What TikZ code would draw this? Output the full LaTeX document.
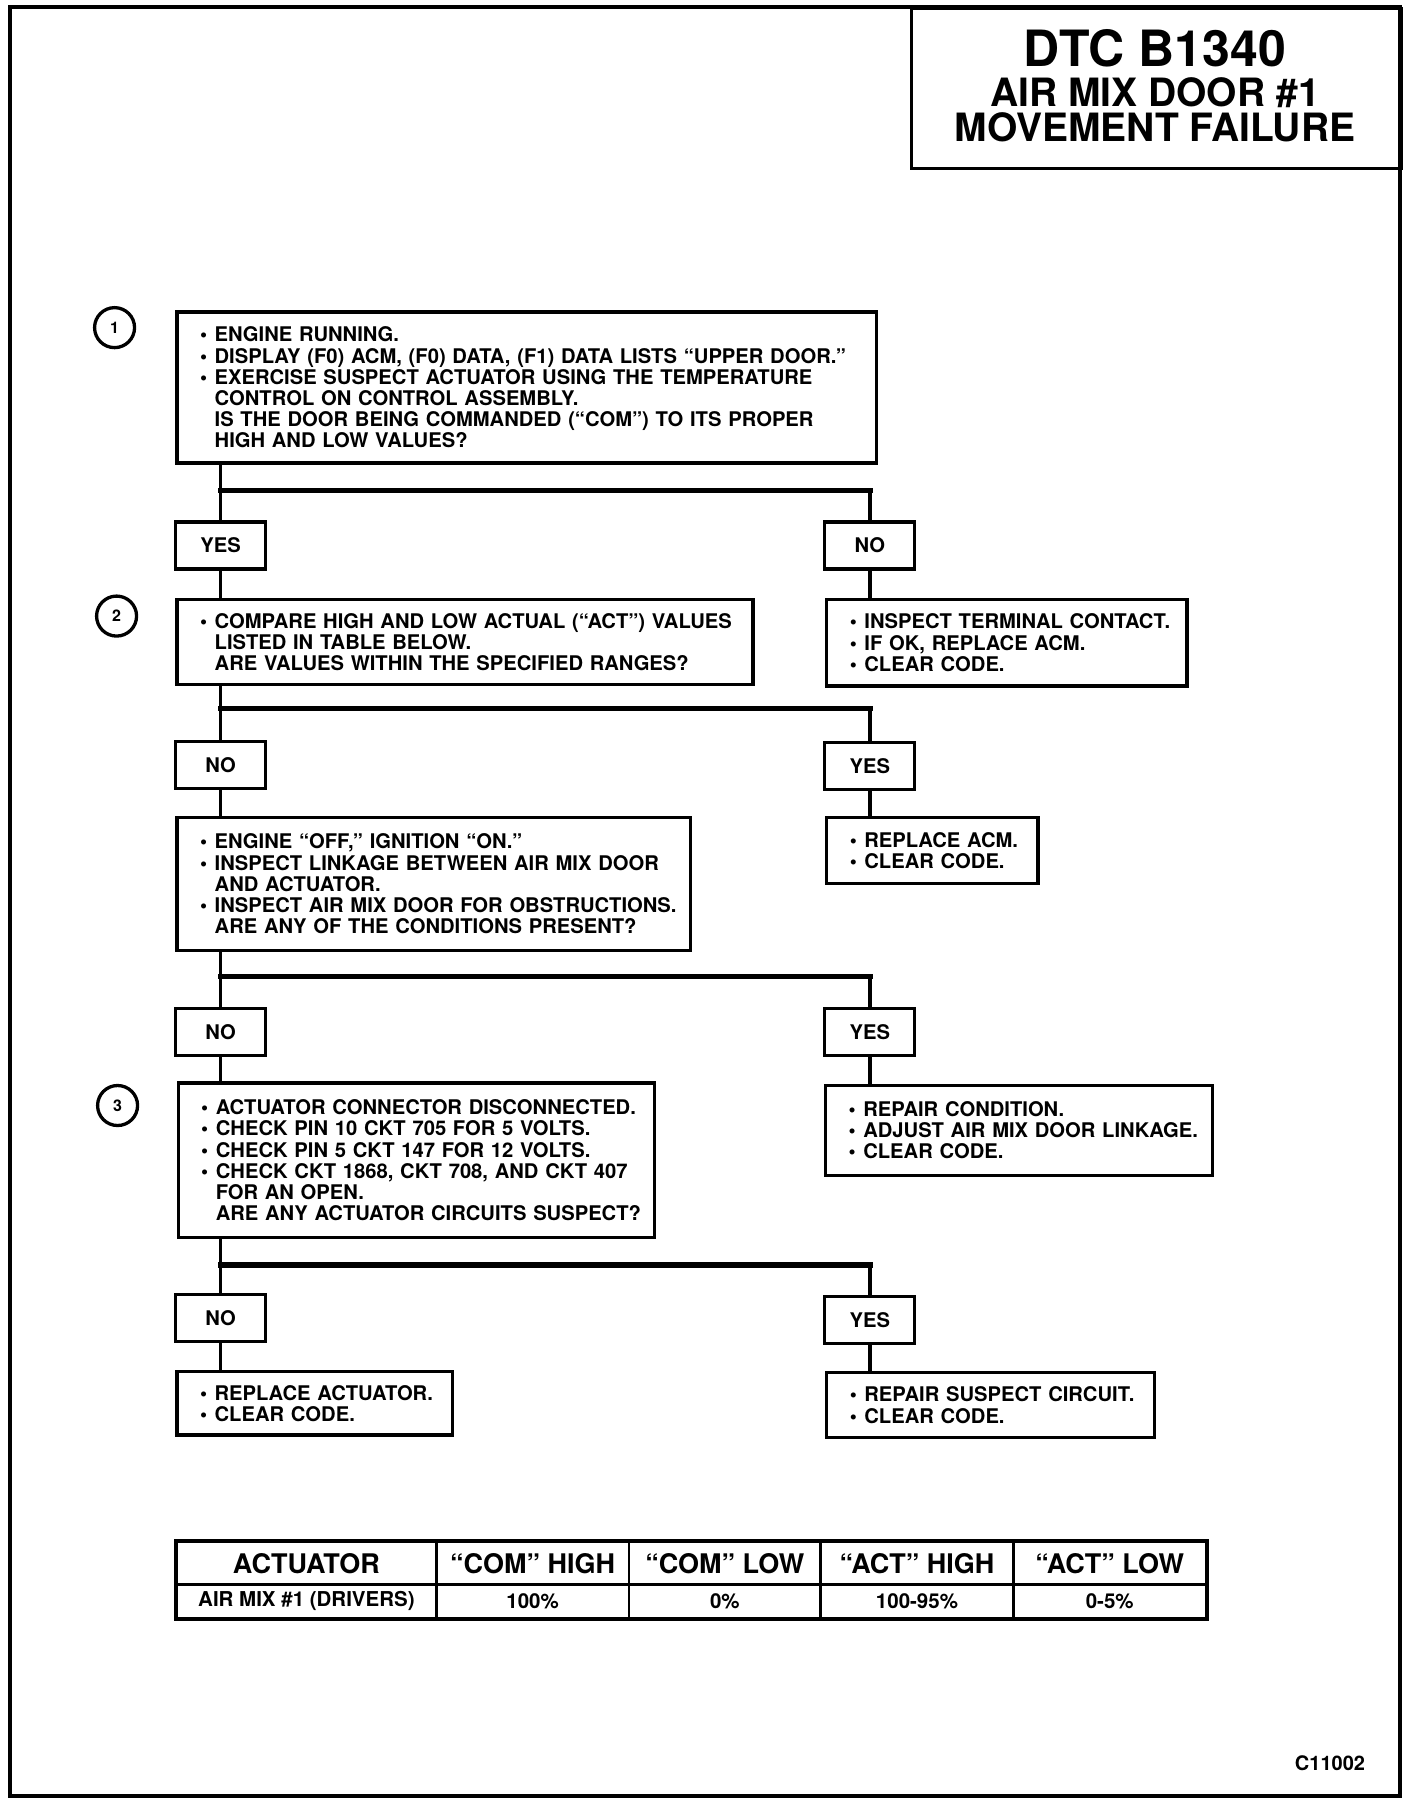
\documentclass[tikz,border=0pt]{standalone}
\usepackage{fontspec}
\setmainfont{TeX Gyre Heros}
\usetikzlibrary{calc}
\newcommand\bitem[1]{\mbox{\makebox[14.6pt][l]{\textbullet}#1}}
\newcommand\citem[1]{\mbox{\hspace*{14.6pt}#1}}
\newcommand\boxfont{\fontsize{20.2}{21.2}\selectfont\bfseries}
\begin{document}
\begin{tikzpicture}[x=1pt,y=-1pt,
  stepbox/.style={draw, line width=3.2pt, anchor=north west, inner xsep=23pt, inner ysep=0pt, align=left, font=\boxfont},
  lbl/.style={draw, line width=3.2pt, minimum width=90pt, minimum height=47pt, inner sep=0pt, font=\boxfont},
  numc/.style={circle, draw, line width=3.3pt, minimum size=40pt, inner sep=0pt, font=\fontsize{16}{16}\selectfont\bfseries},
  vline/.style={line width=3.6pt},
  hline/.style={line width=5.6pt, line cap=rect},
  cell/.style={draw, line width=2.6pt, inner sep=0pt},
  hcell/.style={cell, minimum height=42.7pt, font=\fontsize{27}{27}\selectfont\bfseries},
  dcell/.style={cell, minimum height=33.4pt, font=\fontsize{20.5}{20.5}\selectfont\bfseries}
]
\useasboundingbox (0,0) rectangle (1424,1810);
% frame
\draw[line width=3.6pt] (10,7) rectangle (1400,1796);
% title
\node[draw, line width=3pt, anchor=north west, minimum width=490pt, minimum height=160pt, inner sep=0pt] (title) at (910,7) {};
\node[anchor=base, font=\fontsize{50}{50}\selectfont\bfseries] (t1) at (1155,66) {DTC B1340};
\node[anchor=base, font=\fontsize{39}{39}\selectfont\bfseries] (t2) at (1155,106) {AIR MIX DOOR \#1};
\node[anchor=base, font=\fontsize{39}{39}\selectfont\bfseries] (t3) at (1155,141.5) {MOVEMENT FAILURE};
\begin{scope}[x=1.005pt,y=-1.005pt]
% step numbers
\node[numc] (c1) at (114,326) {1};
\node[numc] (c2) at (116,613) {2};
\node[numc] (c3) at (117,1100) {3};
% boxes
\node[stepbox, text width=653.4pt, minimum height=151pt] (b1) at (174.6,308.9) {%
\bitem{ENGINE RUNNING.}\\
\bitem{DISPLAY (F0) ACM, (F0) DATA, (F1) DATA LISTS “UPPER DOOR.”}\\
\bitem{EXERCISE SUSPECT ACTUATOR USING THE TEMPERATURE}\\
\citem{CONTROL ON CONTROL ASSEMBLY.}\\
\citem{IS THE DOOR BEING COMMANDED (“COM”) TO ITS PROPER}\\
\citem{HIGH AND LOW VALUES?}};
\node[stepbox, text width=529.9pt, minimum height=85.3pt] (b2) at (174.6,594.9) {%
\bitem{COMPARE HIGH AND LOW ACTUAL (“ACT”) VALUES}\\
\citem{LISTED IN TABLE BELOW.}\\
\citem{ARE VALUES WITHIN THE SPECIFIED RANGES?}};
\node[stepbox, text width=314.1pt, minimum height=86.5pt] (r2) at (821.1,594.9) {%
\bitem{INSPECT TERMINAL CONTACT.}\\
\bitem{IF OK, REPLACE ACM.}\\
\bitem{CLEAR CODE.}};
\node[stepbox, text width=467.6pt, minimum height=132.8pt] (b3) at (174.6,811.9) {%
\bitem{ENGINE “OFF,” IGNITION “ON.”}\\
\bitem{INSPECT LINKAGE BETWEEN AIR MIX DOOR}\\
\citem{AND ACTUATOR.}\\
\bitem{INSPECT AIR MIX DOOR FOR OBSTRUCTIONS.}\\
\citem{ARE ANY OF THE CONDITIONS PRESENT?}};
\node[stepbox, text width=165.2pt, minimum height=65.8pt] (r3) at (821.1,811.9) {%
\bitem{REPLACE ACM.}\\
\bitem{CLEAR CODE.}};
\node[stepbox, text width=430.7pt, minimum height=154.7pt] (b4) at (175.7,1076) {%
\bitem{ACTUATOR CONNECTOR DISCONNECTED.}\\
\bitem{CHECK PIN 10 CKT 705 FOR 5 VOLTS.}\\
\bitem{CHECK PIN 5 CKT 147 FOR 12 VOLTS.}\\
\bitem{CHECK CKT 1868, CKT 708, AND CKT 407}\\
\citem{FOR AN OPEN.}\\
\citem{ARE ANY ACTUATOR CIRCUITS SUSPECT?}};
\node[stepbox, text width=340.6pt, minimum height=90pt] (r4) at (820,1078.3) {%
\bitem{REPAIR CONDITION.}\\
\bitem{ADJUST AIR MIX DOOR LINKAGE.}\\
\bitem{CLEAR CODE.}};
\node[stepbox, text width=229.8pt, minimum height=63.4pt] (b5) at (174.6,1363.2) {%
\bitem{REPLACE ACTUATOR.}\\
\bitem{CLEAR CODE.}};
\node[stepbox, text width=281.7pt, minimum height=64.6pt] (r5) at (821.1,1364.3) {%
\bitem{REPAIR SUSPECT CIRCUIT.}\\
\bitem{CLEAR CODE.}};
% yes/no labels
\node[lbl] (y1) at (219.5,542.7) {YES};
\node[lbl] (n1) at (865.5,542.7) {NO};
\node[lbl] (n2) at (219.5,761.4) {NO};
\node[lbl] (y2) at (865.5,762.5) {YES};
\node[lbl] (n3) at (219.5,1026.7) {NO};
\node[lbl] (y3) at (865.5,1026.7) {YES};
\node[lbl] (n4) at (219.5,1311.5) {NO};
\node[lbl] (y4) at (865.5,1313.8) {YES};
% junction levels
\coordinate (j1) at (0,488);
\coordinate (j2) at (0,705.1);
\coordinate (j3) at (0,971.5);
\coordinate (j4) at (0,1258.6);
% connectors level 1
\draw[vline] (y1.north |- b1.south) -- (y1.north);
\draw[hline] (y1.north |- j1) -- (n1.north |- j1);
\draw[vline] (n1.north |- j1) -- (n1.north);
\draw[vline] (y1.south) -- (y1.south |- b2.north);
\draw[vline] (n1.south) -- (n1.south |- r2.north);
% level 2
\draw[vline] (n2.north |- b2.south) -- (n2.north);
\draw[hline] (n2.north |- j2) -- (y2.north |- j2);
\draw[vline] (y2.north |- j2) -- (y2.north);
\draw[vline] (n2.south) -- (n2.south |- b3.north);
\draw[vline] (y2.south) -- (y2.south |- r3.north);
% level 3
\draw[vline] (n3.north |- b3.south) -- (n3.north);
\draw[hline] (n3.north |- j3) -- (y3.north |- j3);
\draw[vline] (y3.north |- j3) -- (y3.north);
\draw[vline] (n3.south) -- (n3.south |- b4.north);
\draw[vline] (y3.south) -- (y3.south |- r4.north);
% level 4
\draw[vline] (n4.north |- b4.south) -- (n4.north);
\draw[hline] (n4.north |- j4) -- (y4.north |- j4);
\draw[vline] (y4.north |- j4) -- (y4.north);
\draw[vline] (n4.south) -- (n4.south |- b5.north);
\draw[vline] (y4.south) -- (y4.south |- r5.north);
% table
\node[hcell, minimum width=259.7pt] (h1) at (304.9,1555.55) {ACTUATOR};
\node[hcell, minimum width=192.8pt] (h2) at (530,1555.55) {“COM” HIGH};
\node[hcell, minimum width=191.6pt] (h3) at (721.2,1555.55) {“COM” LOW};
\node[hcell, minimum width=192.8pt] (h4) at (912.4,1555.55) {“ACT” HIGH};
\node[hcell, minimum width=192.8pt] (h5) at (1104.2,1555.55) {“ACT” LOW};
\node[dcell, minimum width=259.7pt] (d1) at (304.9,1593.4) {AIR MIX \#1 (DRIVERS)};
\node[dcell, minimum width=192.8pt] (d2) at (530,1593.4) {100\%};
\node[dcell, minimum width=191.6pt] (d3) at (721.2,1593.4) {0\%};
\node[dcell, minimum width=192.8pt] (d4) at (912.4,1593.4) {100-95\%};
\node[dcell, minimum width=192.8pt] (d5) at (1104.2,1593.4) {0-5\%};
\draw[line width=3.4pt] (h1.north west) rectangle (d5.south east);
\end{scope}
% figure code
\node[font=\fontsize{20}{20}\selectfont\bfseries] (code) at (1330,1763) {C11002};
\end{tikzpicture}
\end{document}
